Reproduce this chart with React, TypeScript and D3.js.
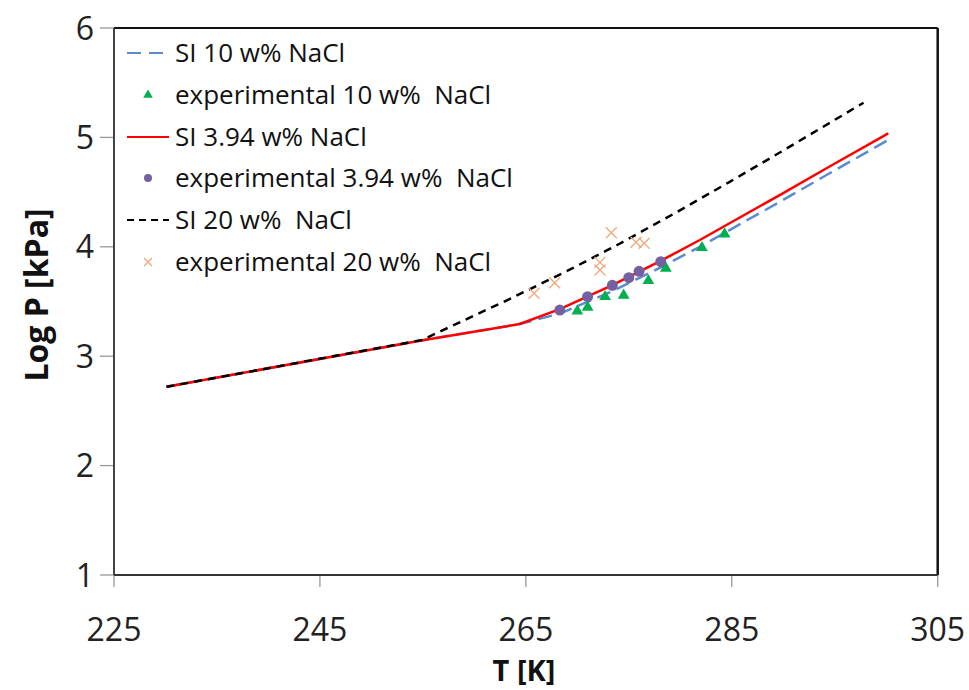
import React from "react";
import * as d3 from "d3";

// Model curves (T in K, log10 P in kPa)
const si10T = [230.1, 254.7, 264.4, 268.3, 273.2, 278.0, 281.9, 289.7, 294.5, 300.2];
const si10P = [2.72, 3.142, 3.294, 3.39, 3.586, 3.807, 4.0, 4.413, 4.672, 4.977];

const si394T = [230.1, 254.7, 264.4, 268.3, 273.2, 278.0, 281.9, 289.7, 294.5, 300.2];
const si394P = [2.72, 3.142, 3.294, 3.43, 3.641, 3.867, 4.062, 4.475, 4.734, 5.036];

const si20T = [230.1, 254.9, 263.5, 269.3, 274.1, 280.0, 284.8, 290.0, 297.8];
const si20P = [2.72, 3.148, 3.526, 3.793, 4.028, 4.335, 4.594, 4.88, 5.317];

// Experimental points
const exp10T = [270.0, 271.0, 272.7, 274.5, 276.9, 278.6, 282.1, 284.3];
const exp10P = [3.413, 3.447, 3.544, 3.557, 3.69, 3.803, 3.992, 4.117];

const exp394T = [268.3, 271.0, 273.4, 275.0, 276.0, 278.1];
const exp394P = [3.422, 3.544, 3.648, 3.718, 3.776, 3.864];

const exp20T = [265.8, 267.8, 272.2, 272.2, 273.3, 275.7, 276.5];
const exp20P = [3.575, 3.672, 3.858, 3.788, 4.129, 4.041, 4.032];

const xTicks = [225, 245, 265, 285, 305];
const yTicks = [1, 2, 3, 4, 5, 6];

const legendLabels = [
  "SI 10 w% NaCl",
  "experimental 10 w%  NaCl",
  "SI 3.94 w% NaCl",
  "experimental 3.94 w%  NaCl",
  "SI 20 w%  NaCl",
  "experimental 20 w%  NaCl",
];

const W = 969;
const H = 690;
const left = 114;
const right = 937.7;
const top = 28;
const bottom = 575;

const BLUE = "#5a8ad0";
const RED = "#ff0000";
const GREEN = "#00b050";
const PURPLE = "#7560a0";
const ORANGE = "#f0a878";
const FONT = "'Open Sans', 'DejaVu Sans', sans-serif";

const zip = (xs: number[], ys: number[]) => xs.map((x, i) => [x, ys[i]] as [number, number]);

export default function App() {
  const x = d3.scaleLinear().domain([225, 305]).range([left, right]);
  const y = d3.scaleLinear().domain([1, 6]).range([bottom, top]);
  const line = d3
    .line<[number, number]>()
    .x((d) => x(d[0]))
    .y((d) => y(d[1]));

  const tri = d3.symbol().type(d3.symbolTriangle).size(60)();
  const triSmall = d3.symbol().type(d3.symbolTriangle).size(40)();

  const cross = (cx: number, cy: number, s: number, key: string) => (
    <path
      key={key}
      d={`M${cx - s},${cy - s}L${cx + s},${cy + s}M${cx - s},${cy + s}L${cx + s},${cy - s}`}
      stroke={ORANGE}
      strokeWidth={1.3}
      fill="none"
    />
  );

  const legendY = [53, 95, 137, 178, 220, 262];
  const lx0 = 127;
  const lx1 = 169;
  const lmid = 148;
  const ltx = 175;

  return (
    <svg width={W} height={H} style={{ position: "absolute", left: 0, top: 0 }}>
      <rect x={0} y={0} width={W} height={H} fill="#fff" />

      {/* axis ticks */}
      {yTicks.map((t) => (
        <line key={"yt" + t} x1={100} x2={left} y1={y(t)} y2={y(t)} stroke="#999" strokeWidth={1.3} />
      ))}
      {xTicks.map((t) => (
        <line key={"xt" + t} x1={x(t)} x2={x(t)} y1={bottom} y2={bottom + 12} stroke="#999" strokeWidth={1.3} />
      ))}

      {/* plot frame */}
      <line x1={left} x2={right} y1={top} y2={top} stroke="#111" strokeWidth={2} />
      <line x1={right} x2={right} y1={top} y2={bottom} stroke="#111" strokeWidth={2.5} />
      <line x1={left} x2={left} y1={top} y2={bottom} stroke="#444" strokeWidth={2} />
      <line x1={left} x2={right} y1={bottom} y2={bottom} stroke="#333" strokeWidth={2} />

      {/* tick labels */}
      {yTicks.map((t) => (
        <text key={"yl" + t} x={94} y={y(t)} dy="0.36em" textAnchor="end" fontFamily={FONT} fontSize={32} fill="#222">
          {t}
        </text>
      ))}
      {xTicks.map((t) => (
        <text key={"xl" + t} x={x(t)} y={641} textAnchor="middle" fontFamily={FONT} fontSize={32} fill="#222">
          {t}
        </text>
      ))}

      {/* axis titles */}
      <text x={524} y={681} textAnchor="middle" fontFamily={FONT} fontSize={29} fontWeight="bold" fill="#111">
        T [K]
      </text>
      <text
        transform="translate(48,295) rotate(-90)"
        textAnchor="middle"
        fontFamily={FONT}
        fontSize={32}
        fontWeight="bold"
        fill="#111"
      >
        Log P [kPa]
      </text>

      {/* model curves */}
      <path d={line(zip(si10T, si10P)) || ""} fill="none" stroke={BLUE} strokeWidth={2.5} strokeDasharray="14 7" />
      <path d={line(zip(si394T, si394P)) || ""} fill="none" stroke={RED} strokeWidth={2.5} />
      <path d={line(zip(si20T, si20P)) || ""} fill="none" stroke="#000" strokeWidth={2.5} strokeDasharray="8 6" />

      {/* experimental data */}
      {exp10T.map((t, i) => (
        <path key={"g" + i} d={tri || ""} transform={`translate(${x(t)},${y(exp10P[i])})`} fill={GREEN} />
      ))}
      {exp394T.map((t, i) => (
        <circle key={"p" + i} cx={x(t)} cy={y(exp394P[i])} r={5.5} fill={PURPLE} />
      ))}
      {exp20T.map((t, i) => cross(x(t), y(exp20P[i]), 5.5, "o" + i))}

      {/* legend */}
      <line x1={lx0} x2={lx1} y1={legendY[0]} y2={legendY[0]} stroke={BLUE} strokeWidth={2} strokeDasharray="14 8" />
      <path d={triSmall || ""} transform={`translate(${lmid},${legendY[1]})`} fill={GREEN} />
      <line x1={lx0} x2={lx1} y1={legendY[2]} y2={legendY[2]} stroke={RED} strokeWidth={2} />
      <circle cx={lmid} cy={legendY[3]} r={4} fill={PURPLE} />
      <line x1={lx0} x2={lx1} y1={legendY[4]} y2={legendY[4]} stroke="#000" strokeWidth={2} strokeDasharray="7 5" />
      {cross(lmid, legendY[5], 4, "lx")}
      {legendLabels.map((s, i) => (
        <text key={"lg" + i} x={ltx} y={legendY[i]} dy="0.36em" fontFamily={FONT} fontSize={26} fill="#111" style={{ whiteSpace: "pre" }}>
          {s}
        </text>
      ))}
    </svg>
  );
}
